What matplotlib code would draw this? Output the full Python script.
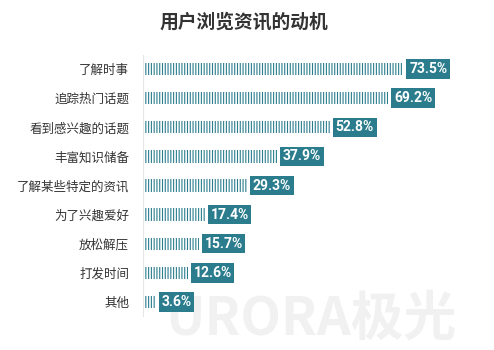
import matplotlib.pyplot as plt

plt.rcParams['font.family'] = ['Noto Sans CJK SC', 'DejaVu Sans']
plt.rcParams['hatch.linewidth'] = 0.8

# dados
motivos = ["了解时事", "追踪热门话题", "看到感兴趣的话题", "丰富知识储备",
           "了解某些特定的资讯", "为了兴趣爱好", "放松解压", "打发时间", "其他"]
valores = [73.5, 69.2, 52.8, 37.9, 29.3, 17.4, 15.7, 12.6, 3.6]
rotulos = ["73.5%", "69.2%", "52.8%", "37.9%", "29.3%", "17.4%", "15.7%", "12.6%", "3.6%"]

teal = "#2b7d8e"

fig = plt.figure(figsize=(4.94, 3.5), dpi=100)
ax = fig.add_axes([0.2895, 0.096, 0.66, 0.748])
ax.set_facecolor("none")

y = list(range(len(motivos)))
ax.barh(y, valores, height=0.42, color="white", edgecolor=teal,
        linewidth=0, hatch="||||||")

for yi, v, r in zip(y, valores, rotulos):
    ax.text(v + 1.6, yi, r, va="center", ha="left", color="white",
            fontsize=10, fontweight="bold", family=["Roboto", "DejaVu Sans"],
            bbox=dict(boxstyle="square,pad=0.2", fc=teal, ec="none"))

ax.set_yticks(y)
ax.set_yticklabels(motivos, fontsize=9, color="#333333")
ax.tick_params(axis="y", length=0, pad=10)
ax.set_xticks([])
ax.set_xlim(0, 92)
ax.set_ylim(len(motivos) - 0.5, -0.5)
for s in ["top", "right", "bottom"]:
    ax.spines[s].set_visible(False)
ax.spines["left"].set_color("#e6e6e6")
ax.spines["left"].set_linewidth(0.8)

fig.text(0.494, 0.937, "用户浏览资讯的动机", ha="center", va="center",
         fontsize=13.5, fontweight="bold", color="#333333")

# marca d'água
fig.text(0.63, 0.088, "URORA极光", ha="center", va="center", fontsize=38,
         fontweight="bold", color="#f1f1f1", zorder=-1)

fig.savefig("out.png", dpi=100, facecolor="white")
